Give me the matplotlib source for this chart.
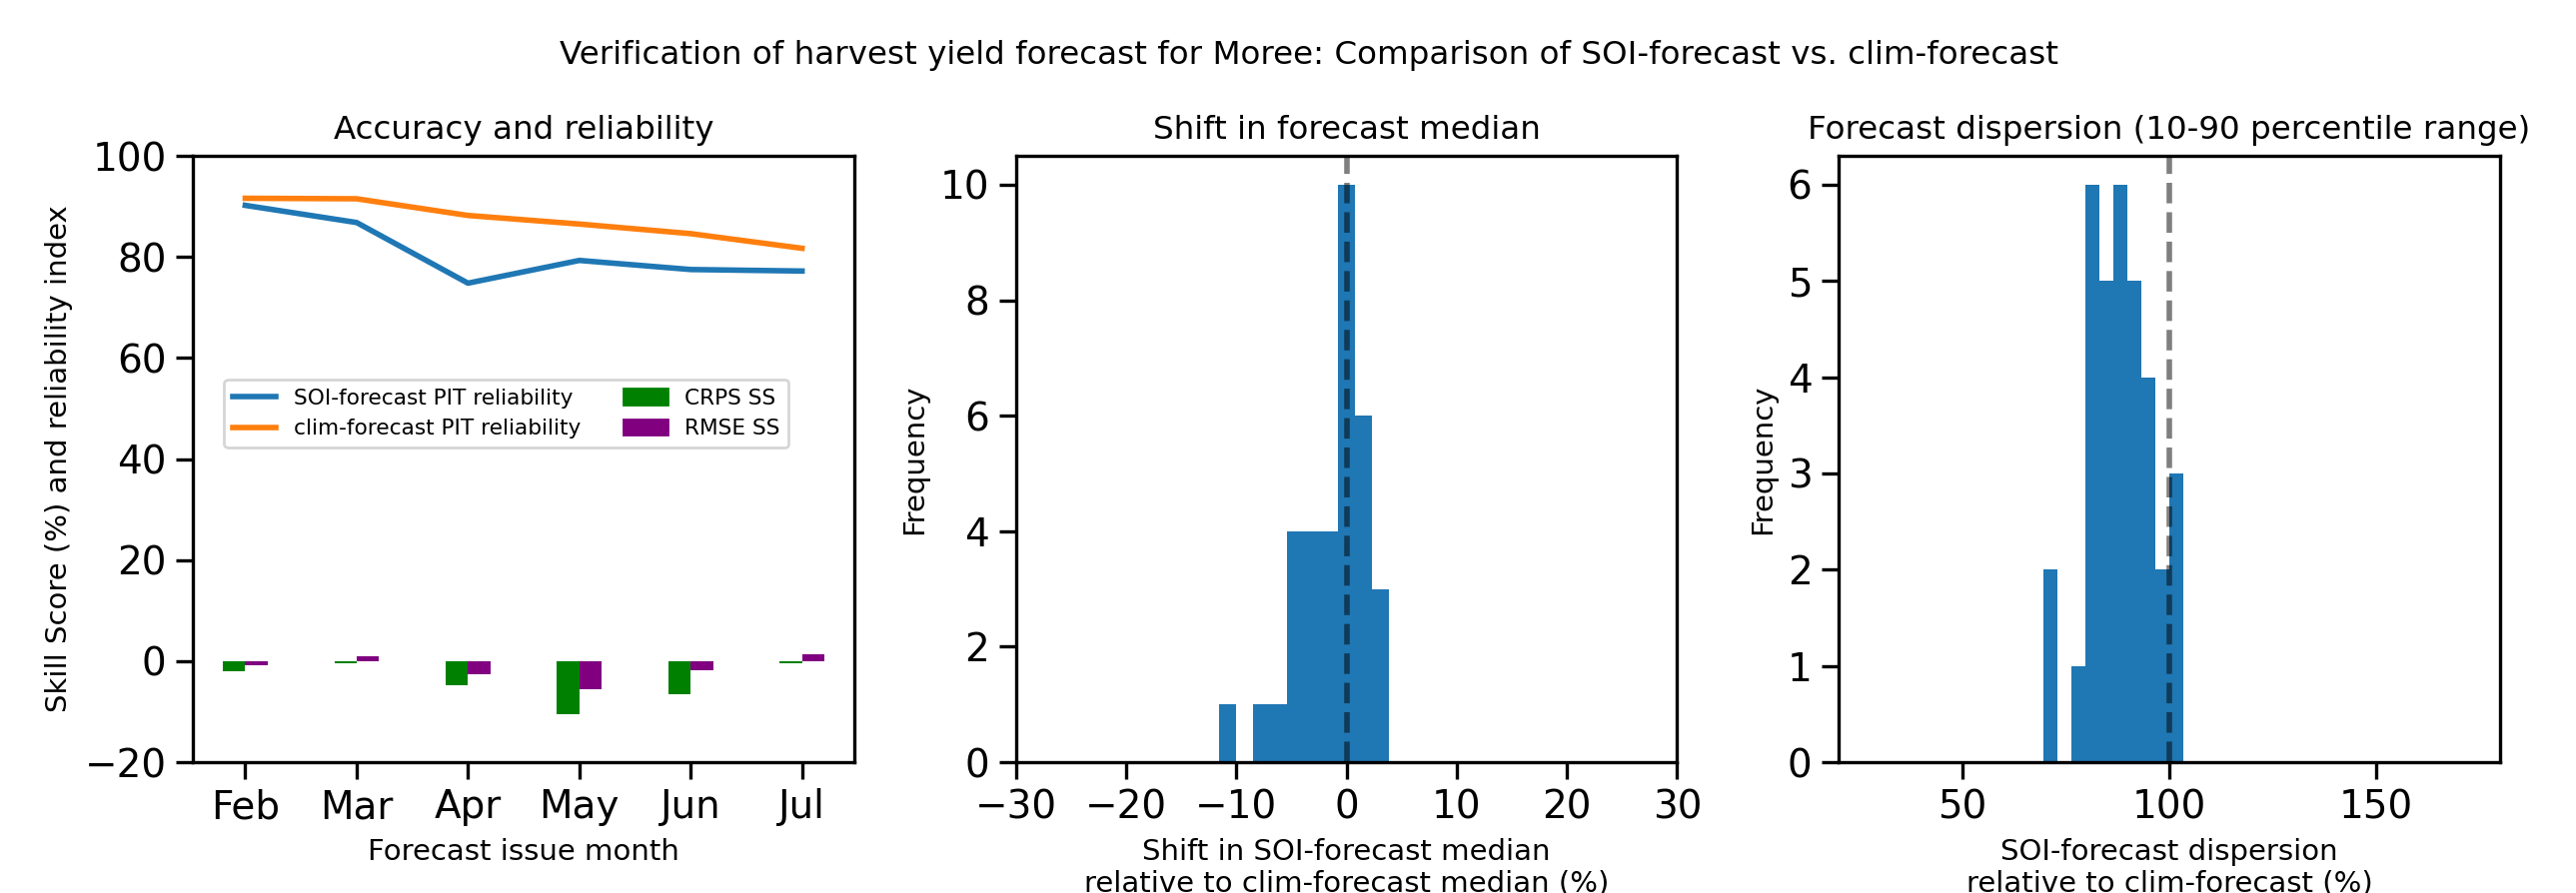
import numpy as np
import matplotlib
matplotlib.use("Agg")
import matplotlib.pyplot as plt
from matplotlib.lines import Line2D
from matplotlib.patches import Patch

# Forecast issue months
months = ["Feb", "Mar", "Apr", "May", "Jun", "Jul"]

# PIT reliability index (%)
soi_pit = [90.2, 86.8, 74.8, 79.3, 77.5, 77.2]
clim_pit = [91.6, 91.5, 88.2, 86.5, 84.6, 81.7]

# Skill scores (%)
crps_ss = [-2.1, -0.4, -4.8, -10.6, -6.5, -0.4]
rmse_ss = [-0.9, 1.0, -2.5, -5.6, -1.8, 1.35]

# Histogram of the shift in forecast median (%)
shift_range = (-11.52, 3.86)
shift_counts = [1, 0, 1, 1, 4, 4, 4, 10, 6, 3]
shift_ticks = [-30, -20, -10, 0, 10, 20, 30]

# Histogram of the forecast dispersion ratio (%)
disp_range = (69.5, 103.4)
disp_counts = [2, 0, 1, 6, 5, 6, 5, 4, 2, 3]
disp_ticks = [50, 100, 150]

BLUE = "#1f77b4"
ORANGE = "#ff7f0e"

fig = plt.figure(figsize=(12.89, 4.47), dpi=200)
axes = fig.subplots(1, 3)
fig.subplots_adjust(left=0.0749, right=0.9705, bottom=0.1465, top=0.8255, wspace=0.244)

TICK = 14
LAB = 10.5
TTL = 11.7

# --- Accuracy and reliability ---
ax = axes[0]
x = np.arange(len(months))
ax.plot(x, soi_pit, color=BLUE, lw=2)
ax.plot(x, clim_pit, color=ORANGE, lw=2)
ax.bar(x - 0.1, crps_ss, width=0.2, color="green")
ax.bar(x + 0.1, rmse_ss, width=0.2, color="purple")
ax.set_ylim(-20, 100)
ax.set_xticks(x)
ax.set_xticklabels(months)
ax.tick_params(labelsize=TICK, width=1.2, length=6)
ax.set_xlabel("Forecast issue month", fontsize=LAB)
ax.set_ylabel("Skill Score (%) and reliability index", fontsize=LAB)
ax.set_title("Accuracy and reliability", fontsize=TTL)
handles = [
    Line2D([], [], color=BLUE, lw=2),
    Line2D([], [], color=ORANGE, lw=2),
    Patch(color="green"),
    Patch(color="purple"),
]
labels = ["SOI-forecast PIT reliability", "clim-forecast PIT reliability",
          "CRPS SS", "RMSE SS"]
ax.legend(handles, labels, ncol=2, fontsize=7.8, loc="center",
          bbox_to_anchor=(0.474, 0.575))

# --- Shift in forecast median ---
ax = axes[1]
edges = np.linspace(shift_range[0], shift_range[1], len(shift_counts) + 1)
ax.hist(edges[:-1], bins=edges, weights=shift_counts, color=BLUE)
ax.axvline(0, color="k", alpha=0.5, ls="--", lw=2)
ax.set_xlim(-30, 30)
ax.set_xticks(shift_ticks)
ax.tick_params(labelsize=TICK, width=1.2, length=6)
ax.set_xlabel("Shift in SOI-forecast median\nrelative to clim-forecast median (%)", fontsize=LAB)
ax.set_ylabel("Frequency", fontsize=LAB)
ax.set_title("Shift in forecast median", fontsize=TTL)

# --- Forecast dispersion ---
ax = axes[2]
edges = np.linspace(disp_range[0], disp_range[1], len(disp_counts) + 1)
ax.hist(edges[:-1], bins=edges, weights=disp_counts, color=BLUE)
ax.axvline(100, color="k", alpha=0.5, ls="--", lw=2)
ax.set_xlim(20, 180)
ax.set_xticks(disp_ticks)
ax.tick_params(labelsize=TICK, width=1.2, length=6)
ax.set_xlabel("SOI-forecast dispersion\nrelative to clim-forecast (%)", fontsize=LAB)
ax.set_ylabel("Frequency", fontsize=LAB)
ax.set_title("Forecast dispersion (10-90 percentile range)", fontsize=TTL)

for a in axes:
    for s in a.spines.values():
        s.set_linewidth(1.2)

fig.suptitle("Verification of harvest yield forecast for Moree: Comparison of SOI-forecast vs. clim-forecast",
             x=0.508, y=0.955, va="top", fontsize=TTL)

fig.savefig("out.png", dpi=200)
